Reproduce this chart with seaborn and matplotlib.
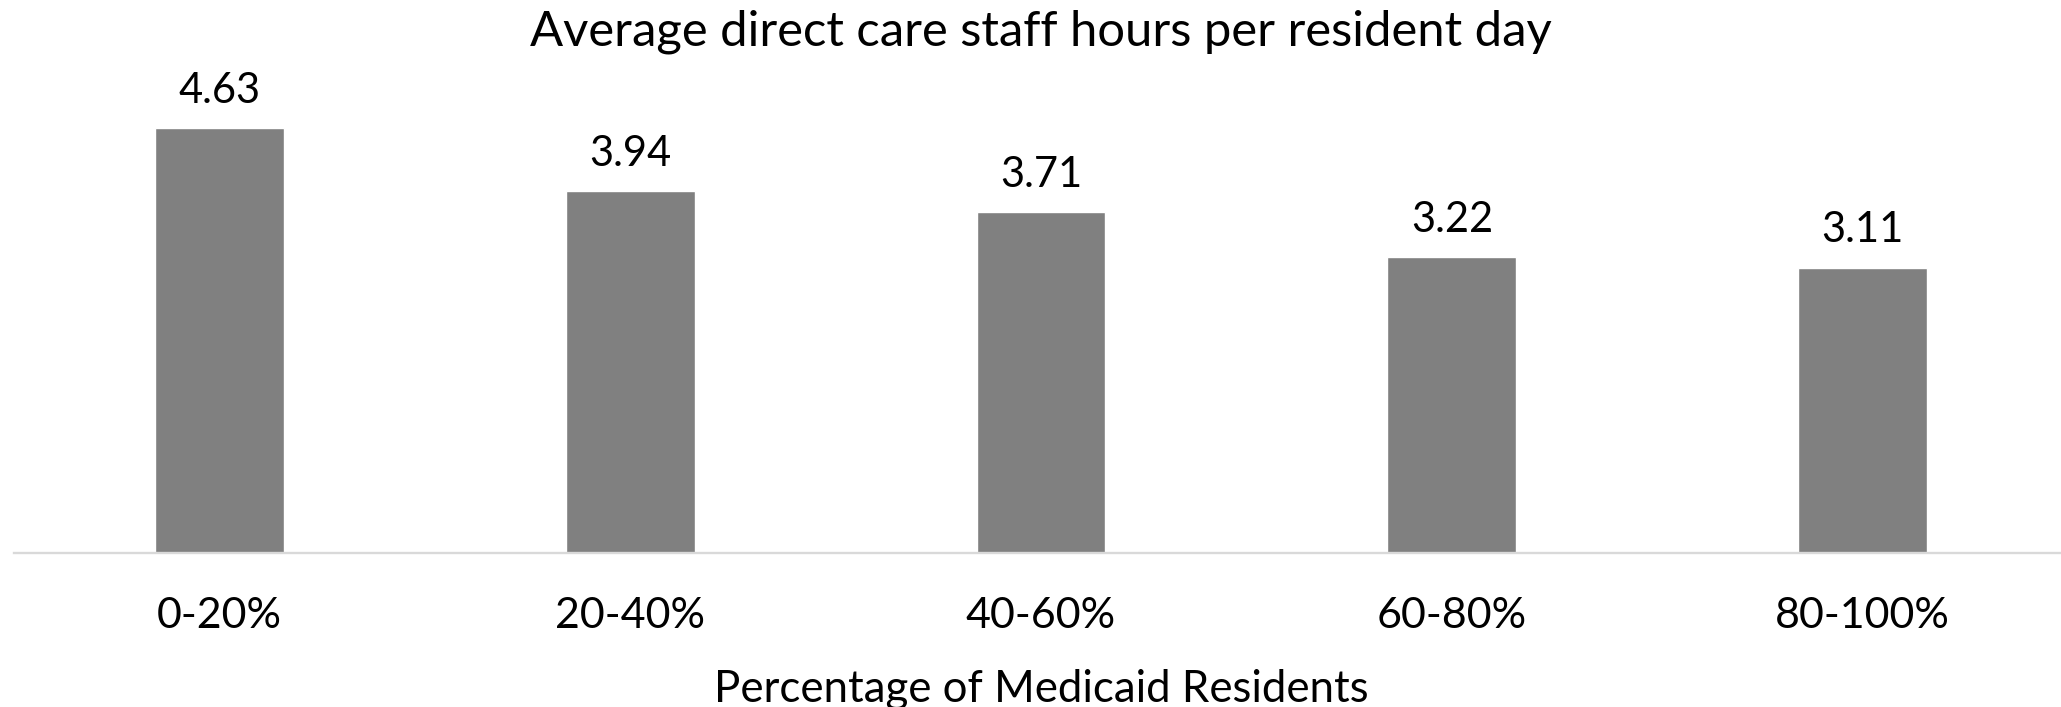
import matplotlib
matplotlib.use("Agg")
import matplotlib.pyplot as plt
import seaborn as sns
import pandas as pd

categories = ["0-20%", "20-40%", "40-60%", "60-80%", "80-100%"]
values = [4.63, 3.94, 3.71, 3.22, 3.11]
value_labels = ["4.63", "3.94", "3.71", "3.22", "3.11"]
title = "Average direct care staff hours per resident day"
xlabel = "Percentage of Medicaid Residents"

sns.set_theme(style="white")
plt.rcParams["font.family"] = ["Lato", "DejaVu Sans"]

W, H = 2061, 707
fig = plt.figure(figsize=(W / 100, H / 100), dpi=100)
fig.patch.set_facecolor("white")

ax_left, ax_right = 14, 2068
ax_top, ax_bottom = 94, 553
ax = fig.add_axes([ax_left / W, 1 - ax_bottom / H, (ax_right - ax_left) / W, (ax_bottom - ax_top) / H])

df = pd.DataFrame({"cat": categories, "val": values})
sns.barplot(data=df, x="cat", y="val", color="#808080", saturation=1, width=0.314, ax=ax)

ax.set_xlim(-0.5, len(categories) - 0.5)
ax.set_ylim(0, 5)
ax.set_facecolor("white")
for s in ["left", "right", "top"]:
    ax.spines[s].set_visible(False)
ax.spines["bottom"].set_color("#d9d9d9")
ax.spines["bottom"].set_linewidth(1.7)
ax.yaxis.set_visible(False)
ax.tick_params(axis="x", length=0, pad=31.5, labelsize=31, labelcolor="black")

for i, (v, lab) in enumerate(zip(values, value_labels)):
    ax.annotate(lab, xy=(i, v), xytext=(0, 18.2), textcoords="offset points",
                ha="center", va="baseline", fontsize=30, color="black")

ax.set_xlabel(xlabel, fontsize=31.5, color="black", va="baseline")
ax.xaxis.set_label_coords(0.5, -(702 - ax_bottom) / (ax_bottom - ax_top))
ax.set_ylabel("")

fig.text(1041 / W, 1 - 45 / H, title, ha="center", va="baseline", fontsize=35.3, color="black")

fig.savefig("out.png", dpi=100, facecolor="white")
